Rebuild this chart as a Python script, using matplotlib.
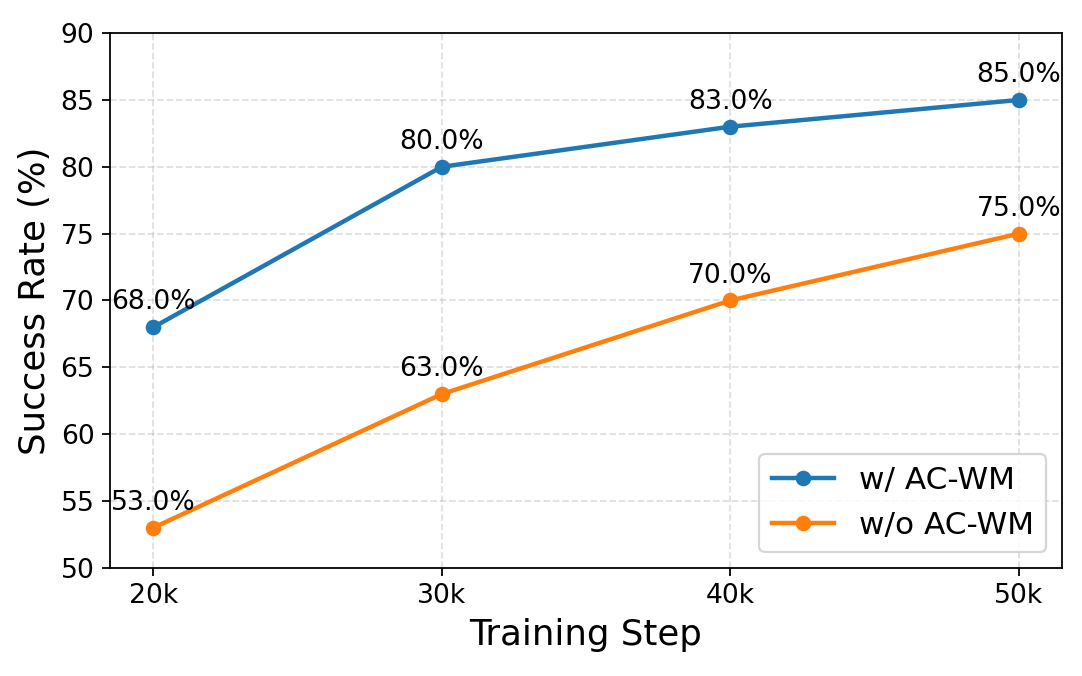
import matplotlib
matplotlib.use("Agg")
import matplotlib.pyplot as plt

steps = [20000, 30000, 40000, 50000]
tick_labels = ["20k", "30k", "40k", "50k"]
with_acwm = [68.0, 80.0, 83.0, 85.0]
without_acwm = [53.0, 63.0, 70.0, 75.0]

DPI = 160
fig, ax = plt.subplots(figsize=(1082 / DPI, 676 / DPI), dpi=DPI)
ax.plot(steps, with_acwm, marker="o", color="#1f77b4", linewidth=2, markersize=6, label="w/ AC-WM")
ax.plot(steps, without_acwm, marker="o", color="#ff7f0e", linewidth=2, markersize=6, label="w/o AC-WM")

for series in (with_acwm, without_acwm):
    for x, y in zip(steps, series):
        ax.annotate(f"{y:.1f}%", (x, y), textcoords="offset points", xytext=(0, 8),
                    ha="center", fontsize=12)

ax.set_xticks(steps)
ax.set_xticklabels(tick_labels)
ax.set_ylim(50, 90)
ax.tick_params(labelsize=12)
ax.set_xlabel("Training Step", fontsize=16)
ax.set_ylabel("Success Rate (%)", fontsize=16)
ax.grid(True, linestyle="--", alpha=0.4)
ax.legend(fontsize=14, loc="lower right")
fig.subplots_adjust(left=0.1017, right=0.9815, top=0.951, bottom=0.16)
fig.savefig("out.png", dpi=DPI)
